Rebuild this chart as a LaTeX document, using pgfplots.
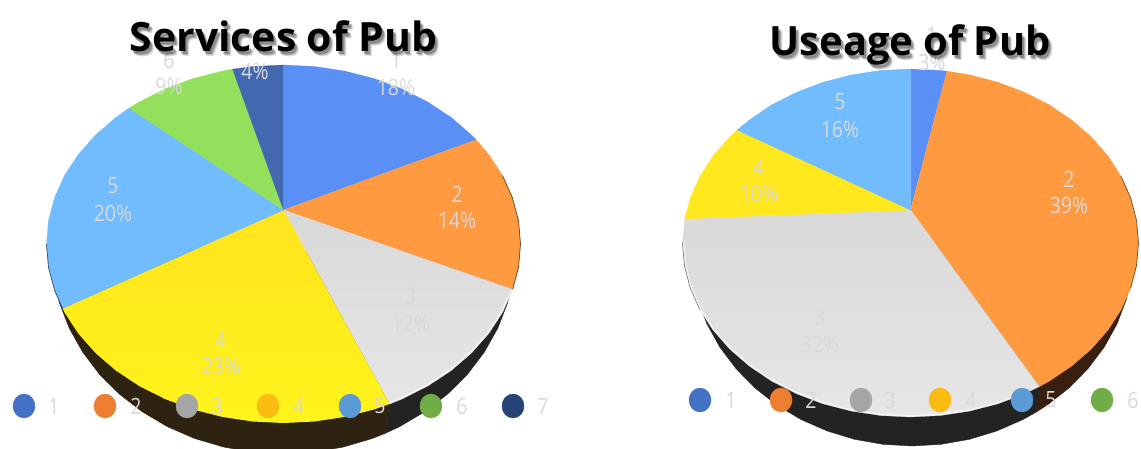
\documentclass[border=0pt]{standalone}
\usepackage{fontspec}
\usepackage{graphicx}
\usepackage{pgfplots}
\pgfplotsset{compat=1.18}
\setmainfont{Open Sans}
\definecolor{wa}{HTML}{5A8FF5}
\definecolor{wb}{HTML}{FF9A40}
\definecolor{wc}{HTML}{DDDDDD}
\definecolor{wd}{HTML}{FFE81E}
\definecolor{we}{HTML}{70BCFF}
\definecolor{wf}{HTML}{92E05C}
\definecolor{wg}{HTML}{4268B0}
\definecolor{la}{HTML}{4472C4}
\definecolor{lb}{HTML}{ED7D31}
\definecolor{lc}{HTML}{A5A5A5}
\definecolor{ld}{HTML}{FBBC12}
\definecolor{le}{HTML}{5B9BD5}
\definecolor{lf}{HTML}{70AD47}
\definecolor{lg}{HTML}{264478}
\definecolor{txt}{HTML}{D9D9D9}
\definecolor{gtop}{HTML}{D9D9D9}
\definecolor{gbot}{HTML}{E6E6E6}
\definecolor{ytop}{HTML}{FFE41E}
\definecolor{ybot}{HTML}{FFF41C}
\definecolor{wallbrown}{HTML}{2E2210}
\definecolor{wallorange}{HTML}{382010}
\definecolor{wallgray}{HTML}{232323}
\newcommand\txtlab[3]{\node[text=txt,inner sep=0pt,font=\fontsize{19.5}{20}\selectfont] at (axis cs:#1,#2) {\scalebox{1}[1.15]{#3}};}
\newcommand\pielab[5]{\txtlab{#1}{#2}{#4}\txtlab{#1}{#3}{#5}}
\newcommand\legitem[4]{\addplot[only marks,mark=*,mark size=12pt,color=#4,mark options={xscale=.92}] coordinates {(#1,#3)};}
\newcommand\pietitle[4]{%
\node[anchor=base,text=black,opacity=.12,inner sep=0pt,font=\fontsize{36}{38}\bfseries] at (axis cs:#1+4,#2+5) {\scalebox{#4}[1.12]{#3}};
\node[anchor=base,text=black,opacity=.18,inner sep=0pt,font=\fontsize{36}{38}\bfseries] at (axis cs:#1+3,#2+4) {\scalebox{#4}[1.12]{#3}};
\node[anchor=base,text=black,opacity=.25,inner sep=0pt,font=\fontsize{36}{38}\bfseries] at (axis cs:#1+2,#2+3) {\scalebox{#4}[1.12]{#3}};
\node[anchor=base,text=black,inner sep=0pt,font=\fontsize{36}{38}\bfseries] at (axis cs:#1,#2) {\scalebox{#4}[1.12]{#3}};}
\pgfplotsset{pie/.style={scale only axis,height=448pt,ymin=0,ymax=448,y dir=reverse,hide axis,clip=true,anchor=south west}}
\begin{document}
\begin{tikzpicture}[x=1pt,y=1pt]
\path[use as bounding box] (0,0) rectangle (1141pt,448pt);
\begin{axis}[pie,at={(0pt,0pt)},width=570pt,xmin=0,xmax=570]
% side wall
\addplot[fill=wallgray,draw=wallgray,line width=.4pt] coordinates {(283.5,250)(515.5,250)(513.5,276.6)(507.6,302.8)(497.8,328.1)(484.4,352)(467.6,374.2)(447.5,394.2)(424.7,411.8)(399.5,426.7)(385,433.4)(389.6,404)};
\addplot[fill=wallbrown,draw=wallbrown,line width=.4pt] coordinates {(389.6,404)(385,433.4)(372.3,438.5)(343.5,447)(313.8,452.2)(283.5,454)(253.2,452.2)(223.5,447)(194.7,438.5)(167.5,426.7)(142.3,411.8)(119.5,394.2)(99.4,374.2)(82.6,352)(69.2,328.1)(59.4,302.8)(53.5,276.6)(51.5,250)(283.5,250)};
% top surface
\addplot[fill=wa,draw=wa,line width=.3pt] coordinates {(283.5,210)(283.5,65)(314.4,66.5)(344.8,71.1)(374.2,78.6)(402,89)(427.8,102)(451.1,117.4)(471.5,135)(476.2,139.8)};
\addplot[fill=wb,draw=wb,line width=.3pt] coordinates {(283.5,210)(476.2,139.8)(488.7,154.5)(502.5,175.5)(512.4,197.7)(518.5,220.6)(520.5,244)(518.5,267.4)(512.7,289.4)};
\addplot[top color=gtop,bottom color=gbot,draw=gtop,line width=.3pt] coordinates {(283.5,210)(512.7,289.4)(502.5,312.5)(488.7,333.5)(471.5,353)(451.1,370.6)(427.8,386)(402,399)(389.6,404)};
\addplot[top color=ytop,bottom color=ybot,draw=none] coordinates {(283.5,210)(389.6,404)(374.2,409.4)(344.8,416.9)(314.4,421.5)(283.5,423)(252.6,421.5)(222.2,416.9)(192.8,409.4)(165,399)(139.2,386)(115.9,370.6)(95.5,353)(78.3,333.5)(64.5,312.5)(62.5,308.4)};
\addplot[fill=we,draw=we,line width=.3pt] coordinates {(283.5,210)(62.5,308.4)(54.6,290.3)(48.5,267.4)(46.5,244)(48.5,220.6)(54.6,197.7)(64.5,175.5)(78.3,154.5)(95.5,135)(115.9,117.4)(129.2,108.1)};
\addplot[fill=wf,draw=wf,line width=.3pt] coordinates {(283.5,210)(129.2,108.1)(139.2,102)(165,89)(192.8,78.6)(222.2,71.1)(232.6,69.2)};
\addplot[fill=wg,draw=wg,line width=.3pt] coordinates {(283.5,210)(232.6,69.2)(252.6,66.5)(283.5,65)};
% rim
\addplot[draw=black,opacity=.55,line width=.8pt] coordinates {(502.5,175.5)(512.4,197.7)(518.5,220.6)(520.5,244)(518.5,267.4)(512.7,289.4)};
\addplot[draw=black,opacity=.55,line width=.8pt] coordinates {(62.5,308.4)(54.6,290.3)(48.5,267.4)(46.5,244)};
\addplot[draw=white,opacity=.6,line width=1.6pt] coordinates {(511.2,290)(501.5,312)(487.7,333)(470.5,352.3)(450.1,369.8)(426.8,385.2)(401,398)(389.6,403)};
% legend
\legitem{24}{1}{406}{la}
\legitem{105}{2}{406}{lb}
\legitem{187}{3}{406}{lc}
\legitem{268}{4}{406}{ld}
\legitem{350}{5}{406}{le}
\legitem{431}{6}{406}{lf}
\legitem{513}{7}{406}{lg}
\txtlab{54}{406}{1}\txtlab{136}{406}{2}\txtlab{217}{406}{3}\txtlab{299}{406}{4}\txtlab{380}{406}{5}\txtlab{462}{406}{6}\txtlab{543}{406}{7}
% data labels
\pielab{396}{60}{87}{1}{18\%}
\pielab{457}{194}{220}{2}{14\%}
\pielab{411}{296}{323}{3}{12\%}
\pielab{221}{340}{366}{4}{23\%}
\pielab{113}{186}{213}{5}{20\%}
\pielab{169}{60}{86}{6}{9\%}
\pielab{255}{44}{71}{7}{4\%}
\pietitle{283.5}{51}{Services of Pub}{1.137}
\end{axis}
\begin{axis}[pie,at={(570pt,0pt)},width=571pt,xmin=570,xmax=1141]
\addplot[fill=wallorange,draw=wallorange,line width=.4pt] coordinates {(912,248)(1134,248)(1132.1,273.8)(1126.4,299.2)(1117.1,323.8)(1104.3,347)(1088.1,368.5)(1069,388)(1047.2,405.1)(1036,412.2)(1039.3,386.6)};
\addplot[fill=wallgray,draw=wallgray,line width=.4pt] coordinates {(1039.3,386.6)(1036,412.2)(1023,419.5)(997,430.9)(969.5,439.3)(941,444.3)(912,446)(883,444.3)(854.5,439.3)(827,430.9)(801,419.5)(776.8,405.1)(755,388)(735.9,368.5)(719.7,347)(706.9,323.8)(697.6,299.2)(691.9,273.8)(690,248)(912,248)};
\addplot[fill=wa,draw=wa,line width=.3pt] coordinates {(910.5,210)(910.5,69)(940.3,70.5)(947,71.2)};
\addplot[fill=wb,draw=wb,line width=.3pt] coordinates {(910.5,210)(947,71.2)(969.5,74.9)(997.8,82.2)(1024.5,92.3)(1049.3,104.9)(1071.7,120)(1091.4,137.1)(1108,156)(1121.1,176.4)(1130.7,198)(1136.5,220.3)(1138.5,243)(1136.5,265.7)(1130.7,288)(1121.1,309.6)(1108,330)(1091.4,348.9)(1071.7,366)(1049.3,381.1)(1039.3,386.6)};
\addplot[top color=gtop,bottom color=gbot,draw=gtop,line width=.3pt] coordinates {(910.5,210)(1039.3,386.6)(1024.5,393.7)(997.8,403.8)(969.5,411.1)(940.3,415.5)(910.5,417)(880.7,415.5)(851.5,411.1)(823.2,403.8)(796.5,393.7)(771.7,381.1)(749.3,366)(729.6,348.9)(713,330)(699.9,309.6)(690.3,288)(684.5,265.7)(682.5,243)(684.7,218.8)};
\addplot[fill=wd,draw=wd,line width=.3pt] coordinates {(910.5,210)(684.7,218.8)(690.3,198)(699.9,176.4)(713,156)(729.6,137.1)(737.2,130)};
\addplot[fill=we,draw=we,line width=.3pt] coordinates {(910.5,210)(737.2,130)(749.3,120)(771.7,104.9)(796.5,92.3)(823.2,82.2)(851.5,74.9)(880.7,70.5)(910.5,69)};
% rim
\addplot[draw=black,opacity=.5,line width=.8pt] coordinates {(1121.1,176.4)(1130.7,198)(1136.5,220.3)(1138.5,243)(1136.5,265.7)(1130.7,288)};
\addplot[draw=black,opacity=.5,line width=.8pt] coordinates {(699.9,309.6)(690.3,288)(684.5,265.7)(682.5,243)};
\addplot[draw=white,opacity=.6,line width=1.6pt] coordinates {(1024,392.7)(997.3,402.8)(969.2,410)(940.1,414.4)(910.5,415.9)(880.9,414.4)(851.8,410)(823.7,402.8)(797,392.7)(772.3,380.2)(750,365.2)(730.4,348.1)(713.8,329.4)(700.8,309.1)(691.3,287.6)(685.6,265.5)(683.6,243)};
\legitem{700}{1}{400}{la}
\legitem{781}{2}{400}{lb}
\legitem{861}{3}{400}{lc}
\legitem{940}{4}{400}{ld}
\legitem{1022}{5}{400}{le}
\legitem{1102}{6}{400}{lf}
\txtlab{731}{400}{1}\txtlab{811}{400}{2}\txtlab{890}{400}{3}\txtlab{971}{400}{4}\txtlab{1051}{400}{5}\txtlab{1133}{400}{6}
\pielab{932}{35}{62}{1}{3\%}
\pielab{1069}{179}{205}{2}{39\%}
\pielab{820}{317}{344}{3}{32\%}
\pielab{759}{167}{193}{4}{10\%}
\pielab{840}{102}{129}{5}{16\%}
\pietitle{910}{55}{Useage of Pub}{1.107}
\end{axis}
\end{tikzpicture}
\end{document}
